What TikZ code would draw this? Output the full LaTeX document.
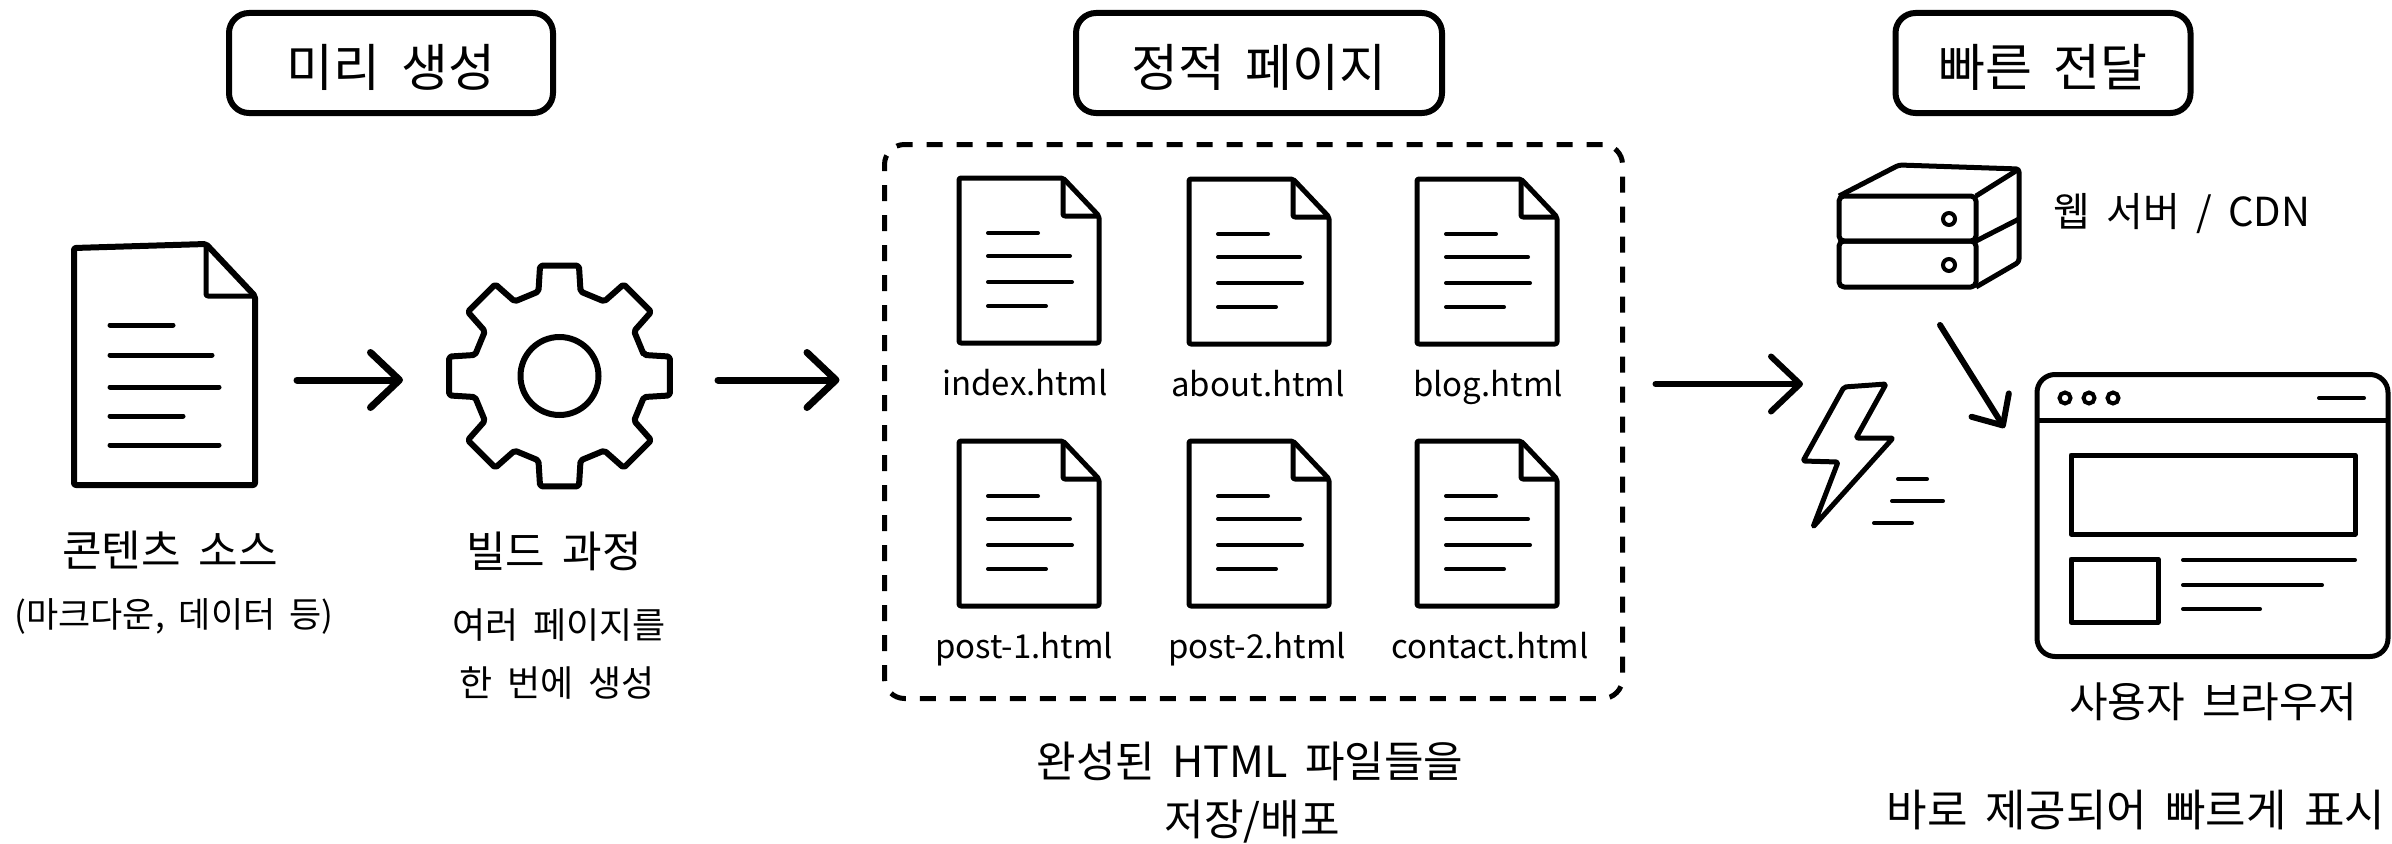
\documentclass[tikz,border=0pt]{standalone}
\usepackage{fontspec}
\setmainfont[WordSpace=1.8]{Noto Sans CJK KR}
\usetikzlibrary{arrows.meta}

\tikzset{
  iconbox/.style={inner sep=0,outer sep=0},
  stepbox/.style={draw,line width=6,rounded corners=20,inner sep=0,text height=52,text depth=6,font=\fontsize{51}{60}\selectfont},
  headlabel/.style={inner sep=0,font=\fontsize{43}{52}\selectfont},
  sublabel/.style={inner sep=0,font=\fontsize{36}{44}\selectfont},
  filelabel/.style={inner sep=0,anchor=base,font=\fontsize{33}{38}\selectfont},
  outline/.style={line width=5,line join=round,rounded corners=2},
  textline/.style={line width=4,line cap=round},
  flow/.style={line width=7,line cap=round,-{Straight Barb[length=29,width=55,line cap=round,round]}},
}

% name, left, top, label, label offset
\newcommand{\filepage}[5]{
\node[iconbox,minimum width=140,minimum height=165] (#1) at (#2+70,#3+82.5) {};
\draw[outline] (#2,#3) -- (#2+104,#3) -- (#2+140,#3+38) -- (#2+140,#3+165) -- (#2,#3+165) -- cycle;
\draw[outline] (#2+104,#3) -- (#2+104,#3+38) -- (#2+140,#3+38);
\draw[textline] (#2+29,#3+55) -- ++(50,0);
\draw[textline] (#2+29,#3+78) -- ++(82,0);
\draw[textline] (#2+29,#3+104) -- ++(84,0);
\draw[textline] (#2+29,#3+128) -- ++(58,0);
\node[filelabel] (#1label) at ([xshift=#5,yshift=-52]#1.south) {#4};
}

\begin{document}
\begin{tikzpicture}[x=1pt,y=-1pt]
\useasboundingbox (0,0) rectangle (2392,843);

\node[stepbox,minimum width=324,minimum height=100] (make) at (391,63) {미리 생성};
\node[stepbox,minimum width=366,minimum height=100] (static) at (1259,63) {정적 페이지};
\node[stepbox,minimum width=295,minimum height=100] (fast) at (2043,63) {빠른 전달};

% source document
\node[iconbox,minimum width=181,minimum height=241] (srcdoc) at (164.5,364.5) {};
\draw[outline,line width=6] (74,248) -- (206,244) -- (255,296) -- (255,485) -- (74,485) -- cycle;
\draw[outline] (206,244) -- (206,296) -- (255,296);
\draw[textline,line width=5] (110,325) -- (173,325);
\draw[textline,line width=5] (110,355) -- (212,355);
\draw[textline,line width=5] (110,387) -- (219,387);
\draw[textline,line width=5] (110,416) -- (183,416);
\draw[textline,line width=5] (110,445) -- (219,445);
\node[headlabel] (srclabel) at (170,550) {콘텐츠 소스};
\node[sublabel,font=\fontsize{35}{44}\selectfont] (srcnote) at (174,616) {(마크다운, 데이터 등)};

% gear
\coordinate (gearc) at (559.5,376);
\node[iconbox,minimum width=225,minimum height=220] (gear) at (gearc) {};
\draw[outline,line width=6] ([shift={(-14:87)}]gearc)
  \foreach \a in {0,45,...,315} {
    -- ([shift={(\a-14:87)}]gearc) -- ([shift={(\a-10:112)}]gearc)
    -- ([shift={(\a+10:112)}]gearc) -- ([shift={(\a+14:87)}]gearc)
  } -- cycle;
\draw[line width=6] (gearc) circle (39);
\node[headlabel] (gearlabel) at (554,551) {빌드 과정};
\node[sublabel] (gearnote) at (559,625) {여러 페이지를};
\node[sublabel] (gearnote2) at (557,683) {한 번에 생성};

\draw[flow] ([shift={(42,15.5)}]srcdoc.east) -- ([shift={(-44,4)}]gear.west);

% pages
\node[draw,line width=5,rounded corners=20,dash pattern=on 16 off 14,minimum width=738,minimum height=554,iconbox] (pages) at (1253.5,421.5) {};
\filepage{index}{959}{178}{index.html}{-4}
\filepage{about}{1189}{179}{about.html}{-1}
\filepage{blog}{1417}{179}{blog.html}{1}
\filepage{post1}{959}{441}{post-1.html}{-5}
\filepage{post2}{1189}{441}{post-2.html}{-2}
\filepage{contact}{1417}{441}{contact.html}{3}
\node[headlabel] (pagesnote) at (1250,761) {완성된 HTML 파일들을};
\node[headlabel] (pagesnote2) at (1252,822) {저장/배포};

\draw[flow] ([shift={(46,4)}]gear.east) -- ([shift={(-45,-41.5)}]pages.west);

% server
\node[iconbox,minimum width=180,minimum height=122] (server) at (1929,226) {};
\draw[outline,rounded corners=5] (1839,196) -- (1976,196) -- (1976,241) -- (1839,241) -- cycle;
\draw[outline,rounded corners=5] (1839,241) -- (1976,241) -- (1976,287) -- (1839,287) -- cycle;
\draw[outline,rounded corners=3] (1839,196) -- (1899,165) -- (2019,169) -- (2019,262) -- (1976,287);
\draw[outline] (1976,196) -- (2019,169);
\draw[outline] (1976,241) -- (2019,219);
\draw[line width=4] (1949,219) circle (6);
\draw[line width=4] (1949,265) circle (6);
\node[sublabel,font=\fontsize{40}{44}\selectfont] (serverlabel) at (2182,214) {웹 서버 / CDN};

% bolt
\node[iconbox,minimum width=90,minimum height=143] (bolt) at (1848,455.5) {};
\draw[outline] (1844,387) -- (1886,384) -- (1856,438) -- (1893,438) -- (1813,527) -- (1838,462) -- (1803,461) -- cycle;
\draw[textline] (1898,479) -- (1927,479);
\draw[textline] (1892,501) -- (1943,501);
\draw[textline] (1874,523) -- (1912,523);

\draw[flow,line width=6] ([shift={(33,-37.5)}]pages.east) -- (bolt.north west);

% browser
\node[draw,line width=5,rounded corners=18,iconbox,minimum width=351,minimum height=282] (browser) at (2212.5,515.5) {};
\draw[line width=5] (browser.west |- 0,420) -- (browser.east |- 0,420);
\foreach \x in {2065,2089,2113} \draw[line width=4] (\x,398) circle (5.5);
\draw[textline] (2319,398) -- (2364,398);
\draw[line width=5,line join=round] (2071,455) rectangle (2355,534);
\draw[line width=5,line join=round] (2071,559) rectangle (2158,622);
\draw[textline] (2183,560) -- (2355,560);
\draw[textline] (2183,585) -- (2322,585);
\draw[textline] (2183,609) -- (2260,609);
\node[headlabel,font=\fontsize{42}{52}\selectfont] (browserlabel) at (2213,702) {사용자 브라우저};
\node[headlabel,font=\fontsize{44}{52}\selectfont] (browsernote) at (2136,810) {바로 제공되어 빠르게 표시};

\draw[flow,line width=6,-{Straight Barb[length=24,width=44,line cap=round,round]}] ([shift={(11,38)}]server.south) -- ([shift={(-32.5,53.5)}]browser.north west);
\end{tikzpicture}
\end{document}
